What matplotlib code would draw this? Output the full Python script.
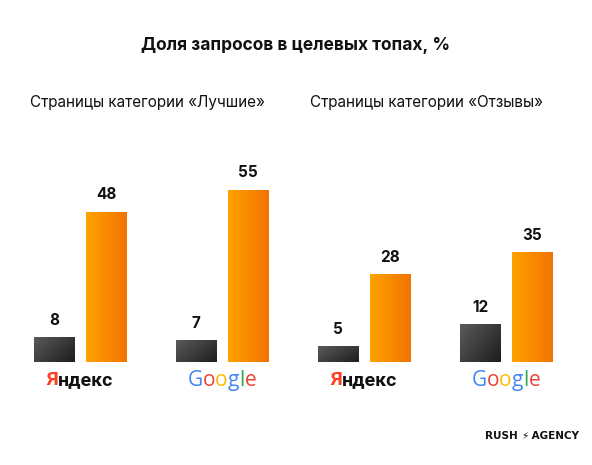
import matplotlib
matplotlib.use("Agg")
import matplotlib.pyplot as plt
import numpy as np
from matplotlib.colors import LinearSegmentedColormap

plt.rcParams['font.family'] = ['Inter', 'DejaVu Sans']

groups = ["Яндекс", "Google", "Яндекс", "Google"]
dark_vals = [8, 7, 5, 12]
orange_vals = [48, 55, 28, 35]
title = "Доля запросов в целевых топах, %"
sub1 = "Страницы категории «Лучшие»"
sub2 = "Страницы категории «Отзывы»"

W, H = 592, 465
fig = plt.figure(figsize=(W/100, H/100), dpi=100)
base = (H-362)/H
top = 60
ax = fig.add_axes([9/W, base, 568/W, (60*3.13)/H])
ax.axis('off')

dark_cmap = LinearSegmentedColormap.from_list('d', ['#5a5a5a', '#1e1e1e'])
or_cmap = LinearSegmentedColormap.from_list('o', ['#ffa200', '#f27400'])
grad = np.add.outer(np.linspace(0, 0.4, 50), np.linspace(0, 0.6, 50))
hgrad = np.tile(np.linspace(0, 1, 50), (50, 1))
bw = 41/142; off = 26/142
for i in range(4):
    for x, v, cm, g in [(i-off, dark_vals[i], dark_cmap, grad), (i+off, orange_vals[i], or_cmap, hgrad)]:
        b = ax.bar(x, v, width=bw, color='none', edgecolor='none')[0]
        im = ax.imshow(g, cmap=cm, extent=[x-bw/2, x+bw/2, 0, v], aspect='auto', zorder=1)
        im.set_clip_path(b)
        ax.text(x, v+3, str(v), ha='center', va='bottom', fontsize=11, fontweight='bold', color='#111')
ax.set_xlim(-0.5, 3.5); ax.set_ylim(0, top)

fig.text(0.5, 1-45/H, title, ha='center', va='center', fontsize=12.5, fontweight='bold', color='#111')
fig.text(30/W, 1-103/H, sub1, ha='left', va='center', fontsize=11, color='#111')
fig.text(310/W, 1-103/H, sub2, ha='left', va='center', fontsize=11, color='#111')

r = fig.canvas.get_renderer()
def colored(xc, y, parts, **kw):
    ts = [fig.text(0, y, s, color=c, va='center', **kw) for s, c in parts]
    ws = [t.get_window_extent(r).width for t in ts]
    x = xc*W - sum(ws)/2
    for t, w in zip(ts, ws):
        t.set_x(x/W); x += w

gc = ['#4285f4', '#ea4335', '#fbbc05', '#4285f4', '#34a853', '#ea4335']
for i, g in enumerate(groups):
    xc = (80 + 142*i)/W
    if g == "Яндекс":
        colored(xc, 1-380/H, [("Я", '#fc3f1d'), ("ндекс", '#111')], fontsize=14, fontweight='bold', family=['Roboto'])
    else:
        colored(xc, 1-380/H, list(zip("Google", gc)), fontsize=15, family=['Open Sans'])

colored(532/W, 1-436/H, [("RUSH ", '#111'), ("⚡", '#111'), (" AGENCY", '#111')], fontsize=7.5, fontweight='bold', family=['DejaVu Sans'])
fig.savefig('out.png', dpi=100, facecolor='white')
